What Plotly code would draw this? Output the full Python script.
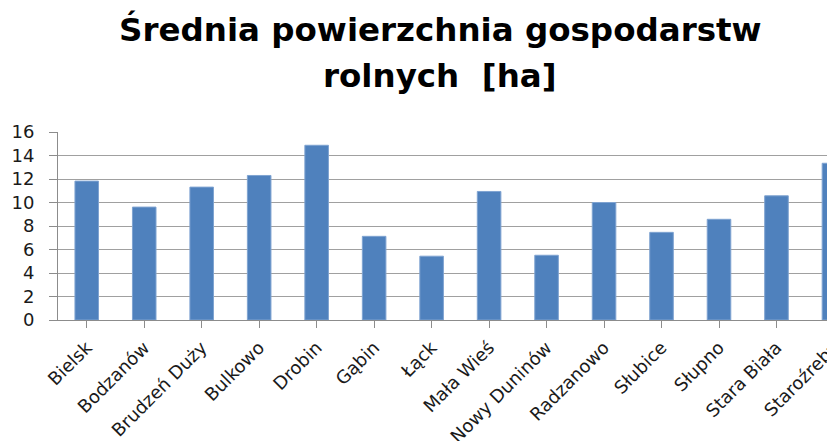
import plotly.graph_objects as go

categories = ["Bielsk", "Bodzanów", "Brudzeń Duży", "Bulkowo", "Drobin", "Gąbin", "Łąck",
              "Mała Wieś", "Nowy Duninów", "Radzanowo", "Słubice", "Słupno", "Stara Biała", "Staroźreby"]
values = [11.82, 9.61, 11.31, 12.30, 14.87, 7.12, 5.43, 10.94, 5.51, 10.0, 7.46, 8.57, 10.57, 13.34]
y_ticks = [0, 2, 4, 6, 8, 10, 12, 14, 16]
title_line1 = "Średnia powierzchnia gospodarstw"
title_line2 = "rolnych\u00a0 [ha]"

# the page body has an 8px margin; lay the figure out in its own coordinates
OFF = 8
W, H = 835 - OFF, 441 - OFF
L = 57.7 - OFF
T = 131.7 - OFF
BOT = 320.3 - OFF
B = H - BOT

fig = go.Figure(go.Bar(
    x=list(range(len(categories))), y=values,
    marker=dict(color="#4F81BD", line=dict(color="#7FA3D1", width=1)),
))

def py(p):
    return (BOT - p) / (BOT - T)

tx = (440 - OFF - L) / (W - L)
fig.add_annotation(text=title_line1, xref="paper", yref="paper", x=tx,
                   y=py(21), xanchor="center", yanchor="middle", showarrow=False,
                   font=dict(family="DejaVu Sans", size=32.5, color="#000000", weight="bold"))
fig.add_annotation(text=title_line2, xref="paper", yref="paper", x=tx,
                   y=py(67.5), xanchor="center", yanchor="middle", showarrow=False,
                   font=dict(family="DejaVu Sans", size=32.5, color="#000000", weight="bold"))

fig.update_layout(
    width=W, height=H,
    margin=dict(l=L, r=0, t=T, b=B, pad=0, autoexpand=False),
    paper_bgcolor="white", plot_bgcolor="white",
    bargap=0.59, showlegend=False,
    xaxis=dict(
        tickmode="array", tickvals=list(range(len(categories))), ticktext=categories,
        range=[-0.5, 13.018], tickangle=-45, showgrid=False, automargin=False,
        showline=True, linecolor="#8c8c8c", linewidth=1,
        ticks="outside", ticklen=7, tickcolor="#8c8c8c", tickson="boundaries",
        ticklabelstandoff=2, ticklabeloverflow="allow",
        tickfont=dict(family="DejaVu Sans", size=18, color="#1a1a1a"),
    ),
    yaxis=dict(
        range=[0, 16], tickvals=y_ticks, showgrid=True, gridcolor="#a0a0a0", gridwidth=1,
        showline=True, linecolor="#8c8c8c", linewidth=1, zeroline=False, automargin=False,
        ticks="outside", ticklen=8, tickcolor="#8c8c8c", ticklabelstandoff=11,
        tickfont=dict(family="DejaVu Sans", size=18, color="#1a1a1a"),
    ),
)

fig.write_html("out.html")
